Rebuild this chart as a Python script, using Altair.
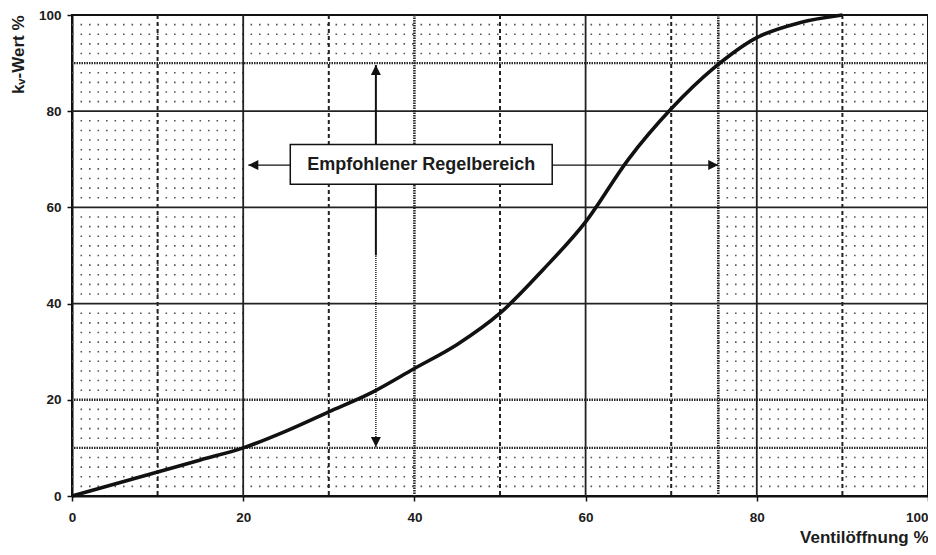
import altair as alt
import pandas as pd

# --- data ---
opening = [0, 5, 10, 15, 20, 25, 30, 35, 40, 45, 50, 55, 60, 65, 70, 75, 80, 85, 90]
kv = [0, 2.5, 5, 7.5, 10, 13.5, 17.5, 21.5, 26.5, 31.5, 38, 47, 57, 70, 80.5, 89, 95.3, 98.4, 100]

x_ticks = [0, 20, 40, 60, 80, 100]
y_ticks = [0, 20, 40, 60, 80, 100]

solid_v = [20, 60, 80]
dense_v = [40, 75.5]
dashed_v = [10, 30, 50, 70, 90]
solid_h = [40, 60, 80]
dense_h = [10, 20, 90]

# dotted background texture rows (plot-area pattern)
texture_rows = [v for v in range(2, 100, 2) if v not in (10, 20, 40, 60, 80, 90)]

# recommended control range (kept free of texture)
range_x = [20, 75.5]
range_y = [10, 90]

# annotation
label_text = "Empfohlener Regelbereich"
arrow_h = {"x0": 20.6, "x1": 75.5, "y": 68.8}
arrow_v_x = 35.5
arrow_v_solid = [50, 89.6]
arrow_v_dotted = [10.2, 50]
box = {"x0": 25.5, "x1": 56.1, "y0": 64.8, "y1": 73.1, "xc": 40.8, "yc": 68.9}

heads_dir = ["left", "right", "up", "down"]
heads_x = [20.6, 75.5, 35.5, 35.5]
heads_y = [68.8, 68.8, 89.6, 10.2]

FONT = "Liberation Sans"
INK = "#1c1c1c"

xs = alt.Scale(domain=[0, 100], nice=False)
ys = alt.Scale(domain=[0, 100], nice=False)

AX = alt.Axis(
    values=x_ticks, title="Ventilöffnung %", titleAnchor="end", titleFont=FONT,
    titleFontSize=17, titleFontWeight="bold", titleColor=INK, titlePadding=6,
    labelFont=FONT, labelFontSize=13.5, labelFontWeight="bold", labelColor=INK,
    labelPadding=9, labelFlush=False, labelOverlap=False,
    labelAlign={"condition": {"test": "datum.value >= 100", "value": "right"}, "value": "center"},
    tickSize=5, tickWidth=1.5, tickColor="#111", domainColor="#111", domainWidth=2,
    grid=False)
AY = alt.Axis(
    values=y_ticks, title="kᵥ-Wert %", titleAnchor="end", titleFont=FONT,
    titleFontSize=17, titleFontWeight="bold", titleColor=INK, titlePadding=11,
    labelFont=FONT, labelFontSize=13.5, labelFontWeight="bold", labelColor=INK,
    labelPadding=6, labelOverlap=False,
    tickSize=5, tickWidth=1.5, tickColor="#111", domainColor="#111", domainWidth=2,
    grid=False)


def X(f, **kw):
    return alt.X(f, type="quantitative", scale=xs, axis=AX, **kw)


def Y(f, **kw):
    return alt.Y(f, type="quantitative", scale=ys, axis=AY, **kw)


texture = alt.Chart(pd.DataFrame({"y": texture_rows, "x0": 0, "x1": 100})).mark_rule(
    color="#555", strokeWidth=1.6, strokeDash=[1.6, 6.9]
).encode(x=X("x0"), x2=alt.X2("x1"), y=Y("y"))

blank = alt.Chart(pd.DataFrame({"x0": [range_x[0]], "x1": [range_x[1]],
                                "y0": [range_y[0]], "y1": [range_y[1]]})).mark_rect(
    fill="white"
).encode(x=X("x0"), x2=alt.X2("x1"), y=Y("y0"), y2=alt.Y2("y1"))

v_solid = alt.Chart(pd.DataFrame({"x": solid_v})).mark_rule(color="#222", strokeWidth=1.8).encode(x=X("x"))
v_dash = alt.Chart(pd.DataFrame({"x": dashed_v})).mark_rule(
    color="#222", strokeWidth=2, strokeDash=[4, 3]).encode(x=X("x"))
v_dense = alt.Chart(pd.DataFrame({"x": dense_v})).mark_rule(
    color="#2a2a2a", strokeWidth=2.6, strokeDash=[1.5, 1]).encode(x=X("x"))
h_solid = alt.Chart(pd.DataFrame({"y": solid_h})).mark_rule(color="#222", strokeWidth=1.8).encode(y=Y("y"))
h_dense = alt.Chart(pd.DataFrame({"y": dense_h})).mark_rule(
    color="#2a2a2a", strokeWidth=2.4, strokeDash=[1.5, 1]).encode(y=Y("y"))

curve = alt.Chart(pd.DataFrame({"opening": opening, "kv": kv})).mark_line(
    color="#111", strokeWidth=3.6, interpolate="monotone"
).encode(x=X("opening"), y=Y("kv"))

harrow = alt.Chart(pd.DataFrame([arrow_h])).mark_rule(color="#111", strokeWidth=1.2).encode(
    x=X("x0"), x2=alt.X2("x1"), y=Y("y"))
varrow1 = alt.Chart(pd.DataFrame({"x": [arrow_v_x], "y0": [arrow_v_solid[0]], "y1": [arrow_v_solid[1]]})).mark_rule(
    color="#111", strokeWidth=2).encode(x=X("x"), y=Y("y0"), y2=alt.Y2("y1"))
varrow2 = alt.Chart(pd.DataFrame({"x": [arrow_v_x], "y0": [arrow_v_dotted[0]], "y1": [arrow_v_dotted[1]]})).mark_rule(
    color="#222", strokeWidth=1.5, strokeDash=[1, 1]).encode(x=X("x"), y=Y("y0"), y2=alt.Y2("y1"))

heads = alt.Chart(pd.DataFrame({"dir": heads_dir, "x": heads_x, "y": heads_y})).mark_point(
    filled=True, color="#111", opacity=1, size=100
).encode(
    x=X("x"), y=Y("y"),
    shape=alt.Shape("dir:N", legend=None, scale=alt.Scale(
        domain=["left", "right", "up", "down"],
        range=["M0,0L2,-1L2,1Z", "M0,0L-2,-1L-2,1Z", "M0,0L-1,2L1,2Z", "M0,0L-1,-2L1,-2Z"])),
)

box_rect = alt.Chart(pd.DataFrame([box])).mark_rect(
    fill="white", stroke="#111", strokeWidth=1.5
).encode(x=X("x0"), x2=alt.X2("x1"), y=Y("y0"), y2=alt.Y2("y1"))
box_text = alt.Chart(pd.DataFrame({"xc": [box["xc"]], "yc": [box["yc"]], "t": [label_text]})).mark_text(
    font=FONT, fontSize=18, fontWeight="bold", color=INK, align="center", baseline="middle"
).encode(x=X("xc"), y=Y("yc"), text="t:N")

chart = alt.layer(
    texture, blank, v_solid, v_dash, v_dense, h_solid, h_dense,
    harrow, varrow1, varrow2, heads, curve, box_rect, box_text
).properties(
    width=856, height=481,
    autosize=alt.AutoSizeParams(type="none"),
    padding={"left": 64, "top": 7, "right": 0, "bottom": 51},
    background="white",
).configure_view(stroke="#111", strokeWidth=2)

chart.save("out.html", embed_options={"renderer": "svg", "actions": False})
